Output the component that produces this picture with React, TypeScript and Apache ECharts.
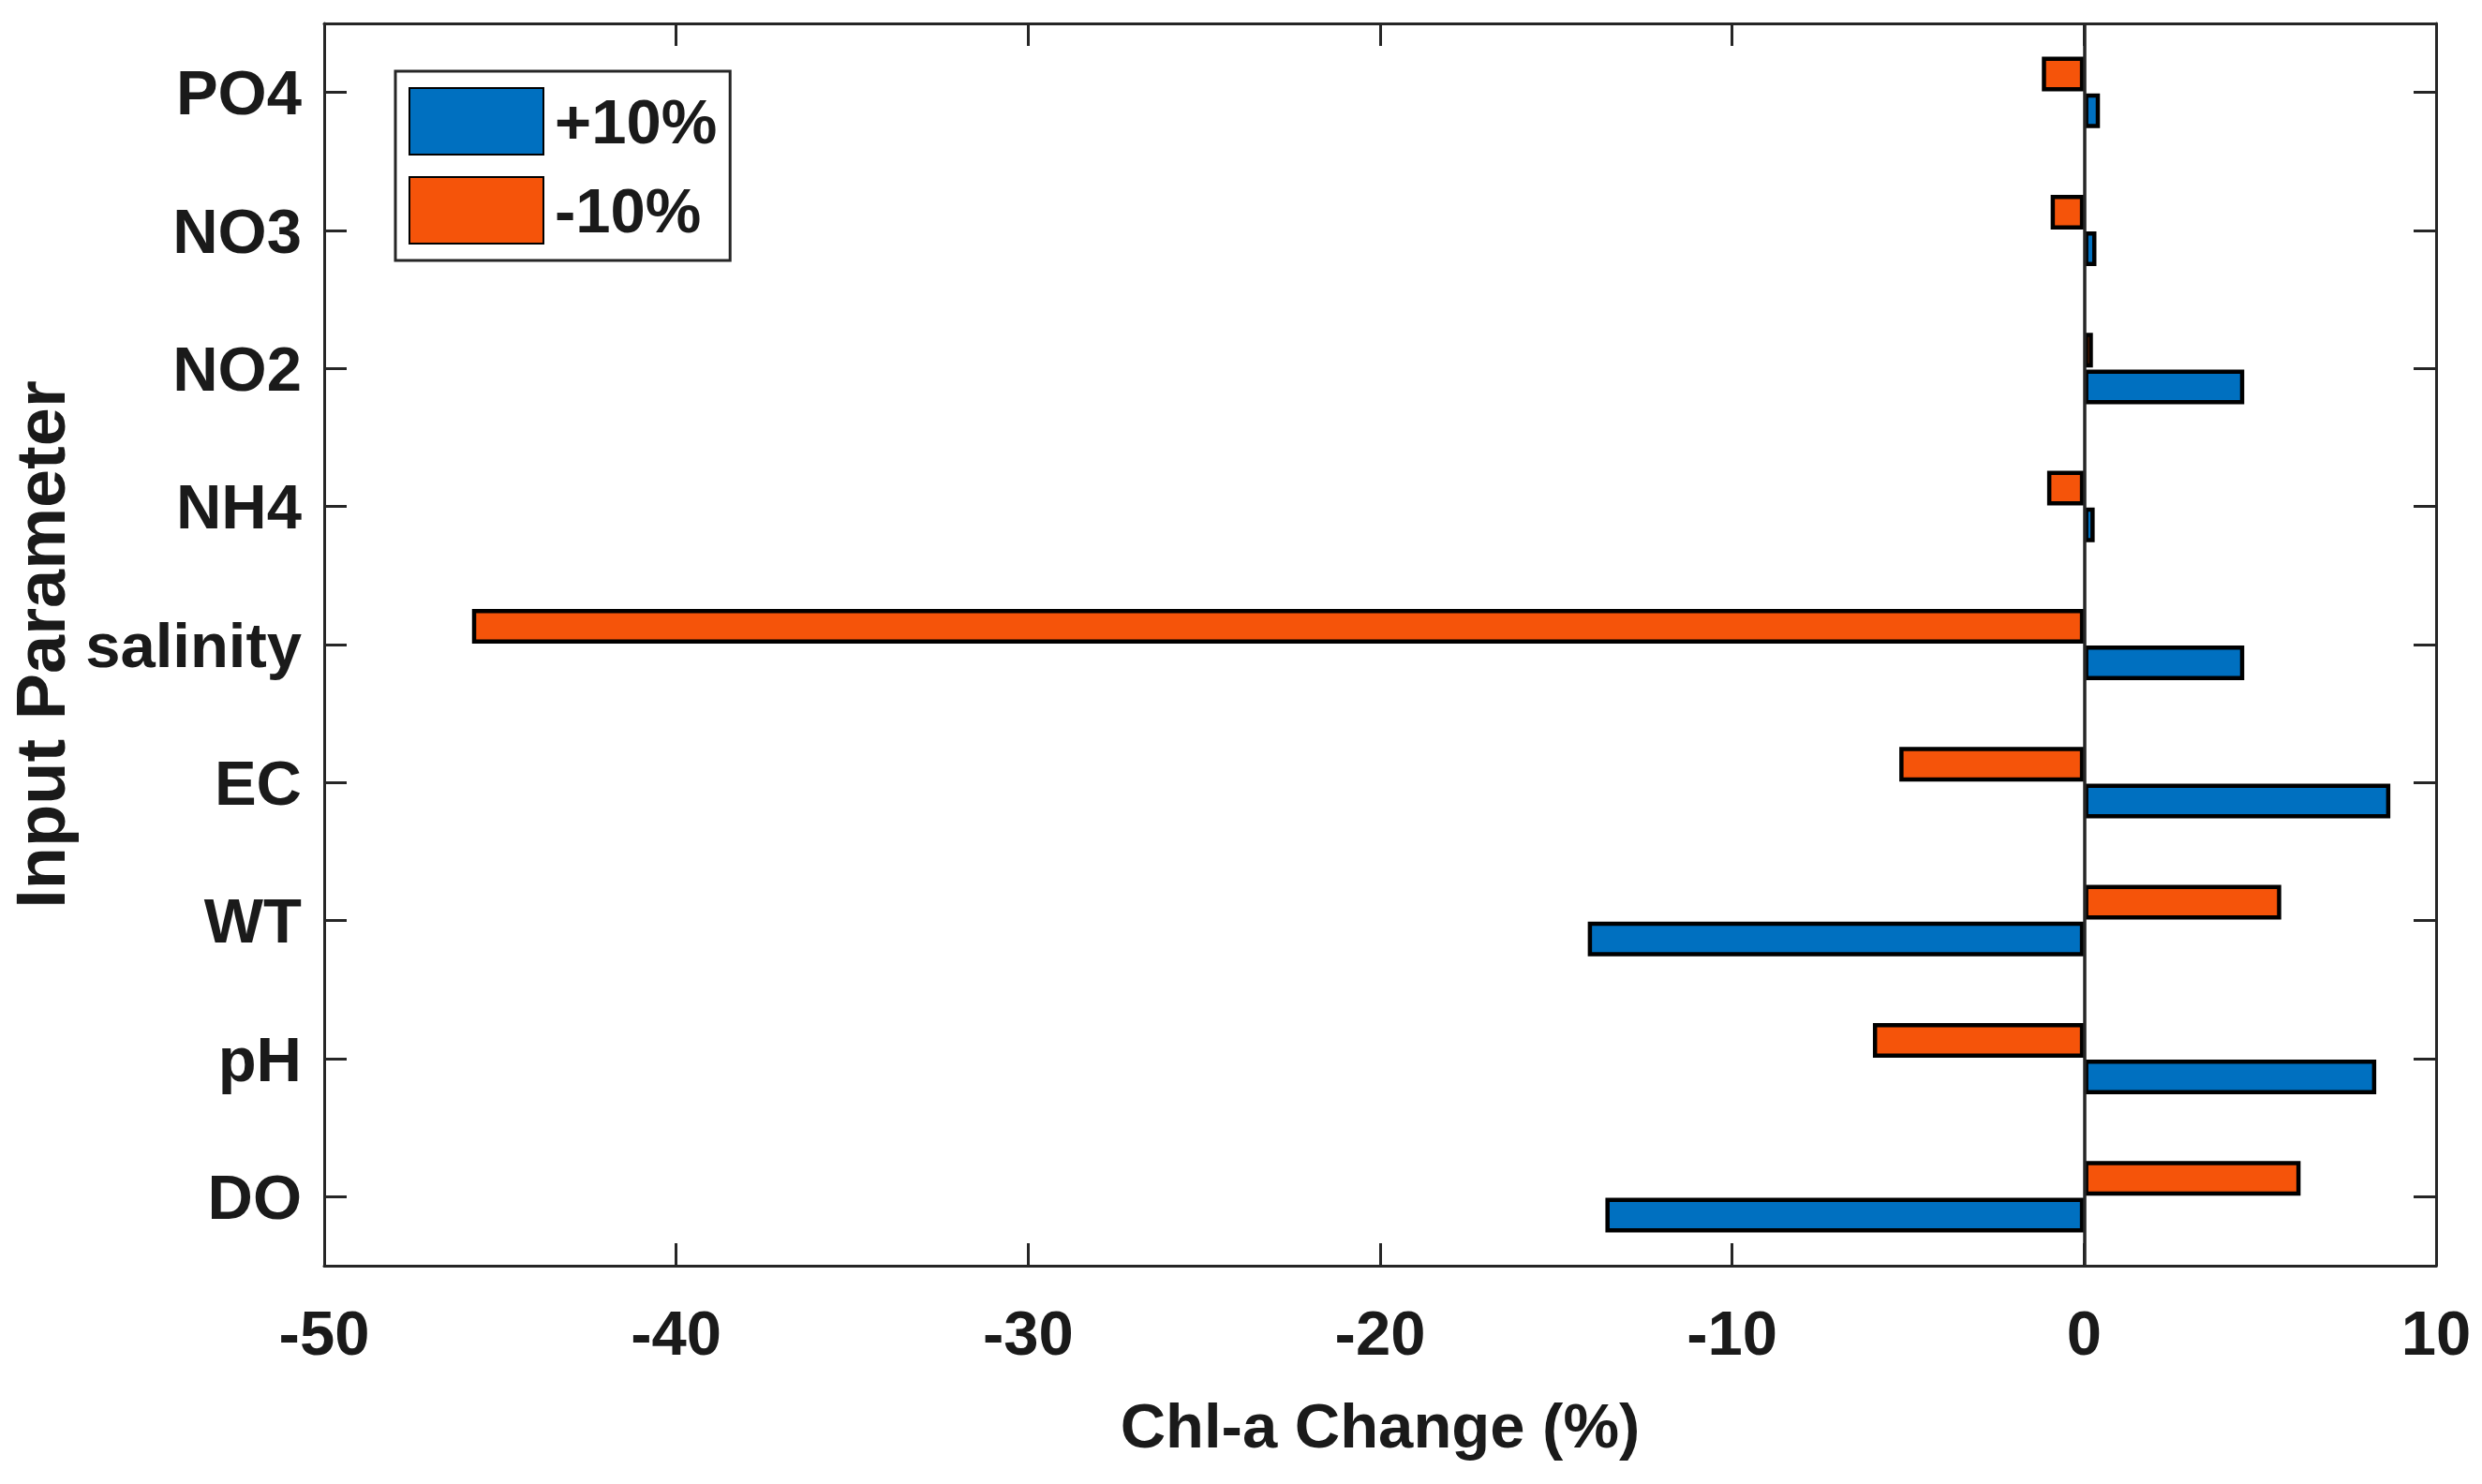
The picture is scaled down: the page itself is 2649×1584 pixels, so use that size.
import React, { useEffect, useRef } from "react";
import * as echarts from "echarts";

const categories = ["DO", "pH", "WT", "EC", "salinity", "NH4", "NO2", "NO3", "PO4"];
const plus10 = [-13.6, 8.3, -14.1, 8.7, 4.55, 0.3, 4.55, 0.35, 0.45];
const minus10 = [6.15, -6.0, 5.6, -5.25, -45.8, -1.05, 0.25, -0.95, -1.2];
const xTicks = { min: -50, max: 10, interval: 10 };
const seriesNames = ["+10%", "-10%"];

const FONT = "'Liberation Sans', Arial, Helvetica, sans-serif";
const AX = "#262626";
const TXT = "#1a1a1a";
const BLUE = "#0070C0";
const ORANGE = "#F5540A";

export default function App() {
  const ref = useRef<HTMLDivElement>(null);
  useEffect(() => {
    if (!ref.current) return;
    const chart = echarts.init(ref.current, null, { renderer: "svg" });
    const labelStyle = { fontFamily: FONT, fontWeight: "bold" as const, fontSize: 67, color: TXT };
    const lineStyle = { color: AX, width: 3 };
    chart.setOption({
      animation: false,
      backgroundColor: "#ffffff",
      grid: { left: 346, right: 49, top: 25, bottom: 233, show: false, outerBoundsMode: "none", containLabel: false },
      legend: {
        left: 422,
        top: 76,
        orient: "vertical",
        itemWidth: 143,
        itemHeight: 71,
        itemGap: 22,
        padding: [17, 14, 17, 14],
        borderColor: AX,
        borderWidth: 3,
        backgroundColor: "#ffffff",
        icon: "rect",
        textStyle: { ...labelStyle, padding: [0, 0, 0, 7] },
        data: seriesNames,
      },
      xAxis: [
        {
          type: "value",
          min: xTicks.min,
          max: xTicks.max,
          interval: xTicks.interval,
          position: "bottom",
          axisLine: { show: true, onZero: false, lineStyle },
          axisTick: { show: true, inside: true, length: 24, lineStyle },
          axisLabel: { ...labelStyle, margin: 38 },
          splitLine: { show: false },
          name: "Chl-a Change (%)",
          nameLocation: "middle",
          nameGap: 137,
          nameTextStyle: { ...labelStyle },
        },
        {
          type: "value",
          min: xTicks.min,
          max: xTicks.max,
          interval: xTicks.interval,
          position: "top",
          axisLine: { show: true, onZero: false, lineStyle },
          axisTick: { show: true, inside: true, length: 24, lineStyle },
          axisLabel: { show: false },
          splitLine: { show: false },
        },
      ],
      yAxis: [
        {
          type: "category",
          data: categories,
          position: "left",
          axisLine: { show: true, onZero: false, lineStyle },
          axisTick: { show: true, inside: true, length: 24, alignWithLabel: true, lineStyle },
          axisLabel: { ...labelStyle, margin: 24 },
          name: "Input Parameter",
          nameLocation: "middle",
          nameRotate: 90,
          nameGap: 262,
          nameTextStyle: { fontFamily: FONT, fontWeight: "bold", fontSize: 74, color: TXT },
        },
        {
          type: "category",
          data: categories,
          position: "right",
          axisLine: { show: true, onZero: false, lineStyle },
          axisTick: { show: true, inside: true, length: 24, alignWithLabel: true, lineStyle },
          axisLabel: { show: false },
        },
      ],
      series: [
        {
          name: seriesNames[1],
          type: "bar",
          xAxisIndex: 0,
          yAxisIndex: 0,
          data: minus10,
          barWidth: 37,
          barGap: "6%",
          itemStyle: { color: ORANGE, borderColor: "#000000", borderWidth: 4.5 },
          markLine: {
            silent: true,
            symbol: "none",
            label: { show: false },
            lineStyle: { color: AX, width: 3.5, type: "solid" },
            data: [{ xAxis: 0 }],
          },
        },
        {
          name: seriesNames[0],
          type: "bar",
          xAxisIndex: 0,
          yAxisIndex: 0,
          data: plus10,
          barWidth: 37,
          barGap: "6%",
          itemStyle: { color: BLUE, borderColor: "#000000", borderWidth: 4.5 },
        },
      ],
    });
    return () => chart.dispose();
  }, []);
  return (
    <div
      ref={ref}
      style={{ position: "fixed", left: 0, top: 0, width: "2649px", height: "1584px", background: "#fff" }}
    />
  );
}
